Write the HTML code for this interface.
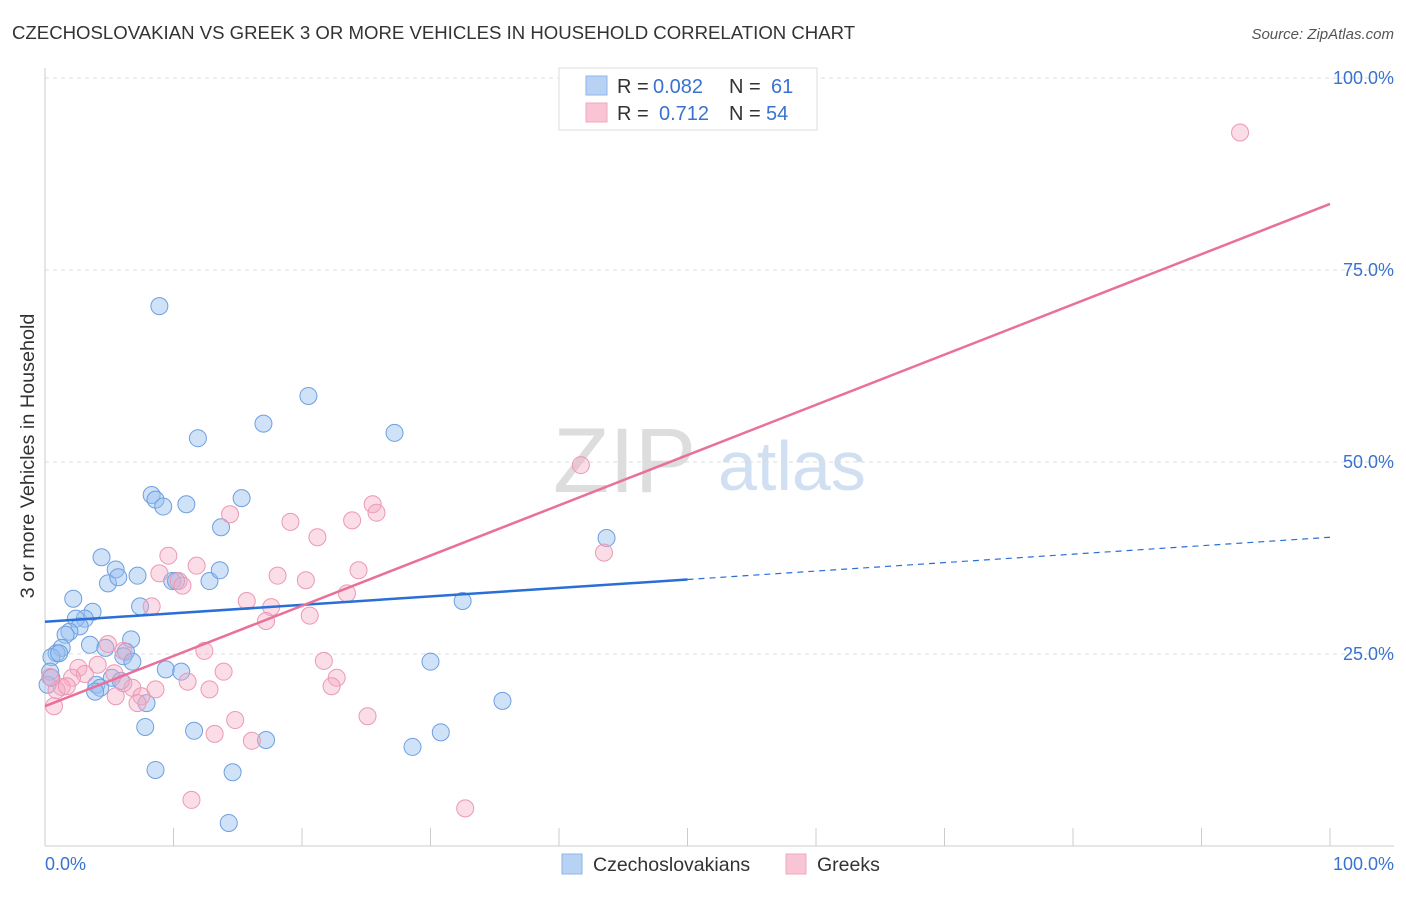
<!DOCTYPE html>
<html><head><meta charset="utf-8"><style>
body{margin:0;background:#fff;font-family:"Liberation Sans",sans-serif;}
svg text{font-family:"Liberation Sans",sans-serif;}
</style></head><body>
<svg id="c" width="1406" height="892" xmlns="http://www.w3.org/2000/svg">
<text x="12" y="39" font-size="18.6" fill="#333">CZECHOSLOVAKIAN VS GREEK 3 OR MORE VEHICLES IN HOUSEHOLD CORRELATION CHART</text>
<text x="1394" y="39" font-size="15" fill="#555" font-style="italic" text-anchor="end">Source: ZipAtlas.com</text>
<text x="553" y="492" font-size="92" fill="#ddd" font-family="Liberation Serif">ZIP</text>
<text x="718" y="490" font-size="70" fill="#d0dff2">atlas</text>
<g id="grid"></g><g id="pts"></g><g id="lines"></g>
<text transform="translate(34,456) rotate(-90)" font-size="19.8" fill="#333" text-anchor="middle">3 or more Vehicles in Household</text>
<text x="45" y="870" font-size="18" fill="#3a72d0">0.0%</text>
<text x="1394" y="870" font-size="18" fill="#3a72d0" text-anchor="end">100.0%</text>
<g>
<rect x="559" y="68" width="258" height="62" fill="#fff" stroke="#ddd"/>
<rect x="586" y="76" width="21" height="19" fill="#b8d2f4" stroke="#8fb4e8"/>
<rect x="586" y="103" width="21" height="19" fill="#f9c4d4" stroke="#f0a8c0"/>
<text x="617" y="93" font-size="20" fill="#333">R =</text>
<text x="653" y="93" font-size="20" fill="#3a72d0">0.082</text>
<text x="729" y="93" font-size="20" fill="#333">N =</text>
<text x="771" y="93" font-size="20" fill="#3a72d0">61</text>
<text x="617" y="120" font-size="20" fill="#333">R =</text>
<text x="659" y="120" font-size="20" fill="#3a72d0">0.712</text>
<text x="729" y="120" font-size="20" fill="#333">N =</text>
<text x="766" y="120" font-size="20" fill="#3a72d0">54</text>
</g>
<g>
<rect x="562" y="854" width="20" height="20" fill="#b8d2f4" stroke="#8fb4e8"/>
<text x="593" y="871" font-size="19.5" fill="#333">Czechoslovakians</text>
<rect x="786" y="854" width="20" height="20" fill="#f9c4d4" stroke="#f0a8c0"/>
<text x="817" y="871" font-size="19.5" fill="#333">Greeks</text>
</g>
</svg>
<script>
const yTicks=[25,50,75,100];
const yTickLabels=["25.0%","50.0%","75.0%","100.0%"];
const xTicks=[0,10,20,30,40,50,60,70,80,90,100];
const blueX=[8.9,20.5,17.0,27.2,11.9,8.3,8.6,9.2,11.0,15.3,13.7,4.4,5.5,4.9,5.7,7.2,9.9,10.2,12.8,13.6,2.2,7.4,3.7,3.1,2.4,2.7,1.9,1.6,3.5,1.3,4.7,6.7,0.9,6.3,0.5,1.1,6.1,6.8,9.4,10.6,0.4,5.2,5.9,4.0,4.3,0.2,3.9,7.9,7.8,11.6,17.2,8.6,14.6,14.3,30.0,32.5,35.6,28.6,30.8,43.7,0.5];
const blueY=[70.3,58.6,55.0,53.8,53.1,45.7,45.1,44.2,44.5,45.3,41.5,37.6,36.0,34.2,35.0,35.2,34.5,34.5,34.5,35.9,32.2,31.2,30.5,29.6,29.6,28.6,27.9,27.5,26.2,25.8,25.8,26.9,25.1,25.3,24.6,25.1,24.7,24.0,23.0,22.7,22.7,21.9,21.5,21.0,20.6,21.0,20.1,18.6,15.5,15.0,13.8,9.9,9.6,3.0,24.0,31.9,18.9,12.9,14.8,40.1,21.9];
const pinkX=[93.0,41.7,25.5,25.8,14.4,19.1,21.2,23.9,9.6,11.8,8.9,10.4,10.7,18.1,20.3,24.4,23.5,15.7,8.3,17.6,20.6,17.2,4.9,6.1,12.4,43.5,21.7,22.7,22.3,4.1,2.6,3.1,5.4,13.9,11.1,2.1,1.3,0.9,6.8,8.6,12.8,7.5,5.5,7.2,0.4,0.7,14.8,13.2,16.1,25.1,11.4,32.7,1.7,6.1];
const pinkY=[92.9,49.6,44.5,43.4,43.2,42.2,40.2,42.4,37.8,36.5,35.5,34.5,33.9,35.2,34.6,35.9,32.9,31.9,31.2,31.1,30.0,29.3,26.3,25.4,25.4,38.2,24.1,21.9,20.8,23.6,23.2,22.4,22.5,22.7,21.4,21.9,20.7,20.3,20.6,20.4,20.4,19.5,19.5,18.6,22.0,18.2,16.4,14.6,13.7,16.9,6.0,4.9,20.8,21.2];
const blueFit=[29.2,40.2], pinkFit=[18.2,83.6];
const X=v=>45+v*12.85, Y=v=>846-v*7.68;
const NS="http://www.w3.org/2000/svg";
function mk(tag,attrs,parent){const e=document.createElementNS(NS,tag);for(const k in attrs)e.setAttribute(k,attrs[k]);parent.appendChild(e);return e;}
const grid=document.getElementById('grid'),pts=document.getElementById('pts'),lines=document.getElementById('lines');
yTicks.forEach((t,i)=>{
 const l=mk('line',{x1:45,x2:1394,y1:Y(t),y2:Y(t),stroke:'#ddd','stroke-dasharray':'4,4'},grid);
 
 
 const tx=mk('text',{x:1394,y:Y(t)+6,'font-size':18,fill:'#3a72d0','text-anchor':'end'},grid);
 tx.textContent=yTickLabels[i];
 
 
});
const ax=mk('line',{x1:45,x2:45,y1:68,y2:846,stroke:'#ccc'},grid);


const bx=mk('line',{x1:45,x2:1394,y1:846,y2:846,stroke:'#ccc'},grid);


xTicks.forEach(t=>{
 const l=mk('line',{x1:X(t),x2:X(t),y1:828,y2:846,stroke:'#ccc'},grid);
 
 
});
blueX.forEach((v,i)=>{
 const c=mk('circle',{cx:X(v),cy:Y(blueY[i]),r:8.5,fill:'rgba(150,190,240,0.45)',stroke:'#6e9fe0','stroke-width':1},pts);
 
 
});
pinkX.forEach((v,i)=>{
 const c=mk('circle',{cx:X(v),cy:Y(pinkY[i]),r:8.5,fill:'rgba(245,170,195,0.4)',stroke:'#ec98b4','stroke-width':1},pts);
 
 
});
const bAt=x=>blueFit[0]+(blueFit[1]-blueFit[0])*x/100;
const b1=mk('line',{x1:X(0),y1:Y(bAt(0)),x2:X(50),y2:Y(bAt(50)),stroke:'#2a6fd6','stroke-width':2.5},lines);


const b2=mk('line',{x1:X(50),y1:Y(bAt(50)),x2:X(100),y2:Y(bAt(100)),stroke:'#2a6fd6','stroke-width':1.2,'stroke-dasharray':'6,5'},lines);


const p1=mk('line',{x1:X(0),y1:Y(pinkFit[0]),x2:X(100),y2:Y(pinkFit[1]),stroke:'#e8709a','stroke-width':2.5},lines);


</script>
</body></html>
